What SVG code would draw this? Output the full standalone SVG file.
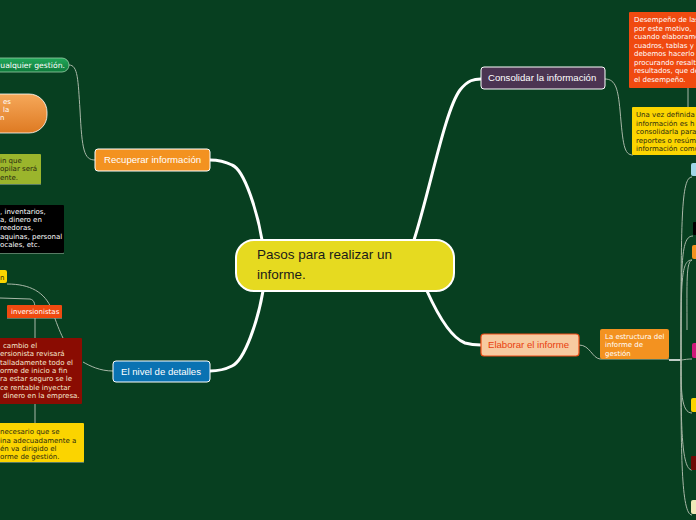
<svg xmlns="http://www.w3.org/2000/svg" width="696" height="520" viewBox="0 0 696 520">
<defs>
<linearGradient id="gGreen" x1="0" y1="0" x2="0" y2="1"><stop offset="0" stop-color="#22a85a"/><stop offset="1" stop-color="#0d7a3a"/></linearGradient>
<linearGradient id="gOrange" x1="0" y1="0" x2="0" y2="1"><stop offset="0" stop-color="#f6a85a"/><stop offset="1" stop-color="#de7a22"/></linearGradient>
</defs>
<style>
.main{fill:none;stroke:#ffffff;stroke-width:3;stroke-linecap:round}
.thin{fill:none;stroke:#a9b8a8;stroke-width:1}
.h{font-family:"Liberation Sans",Arial,sans-serif;font-size:9.6px;fill:#ffffff}
.s{font-family:"DejaVu Sans",Verdana,sans-serif;font-size:7px}
.w{fill:#ffffff}
.d{fill:#2a2a10}
.c{fill:#f6ead0}
</style>
<rect x="0" y="0" width="696" height="520" fill="#073f20"/>

<g id="connectors">
<path class="main" d="M262,240 C258,215 245,170 232,165 C222,160 215,160 210,160"/>
<path class="main" d="M263,291 C258,320 245,360 232,366 C222,371 215,371 210,371"/>
<path class="main" d="M414,240 C430,190 445,110 460,90 C468,80 474,79 481,79"/>
<path class="main" d="M427,291 C440,320 452,338 465,343 C472,345 476,345 481,345"/>
<path class="thin" d="M69,65 C78,65 78,80 80,110 C82,150 84,160 95,160"/>
<path class="thin" d="M605,79 C616,79 618,90 620,110 C623,145 624,155 633,155"/>
<path class="thin" d="M688,88 L688,107"/>
<path class="thin" d="M579,345 C590,345 592,358 600,359 L669,359"/>
<path class="thin" d="M113,371 C100,371 90,366 83,362"/>
<path class="thin" d="M7,284 C30,284 45,292 52,310 C56,322 60,332 63,338"/>
<path class="thin" d="M0,298 L30,299 C35,300 35,305 35,312 L35,338"/>
<path class="thin" d="M35,404 L35,423"/>
<path class="thin" d="M7,318 L62,318"/>
<path class="thin" d="M0,253 L64,253"/>
<path class="thin" d="M0,184 L41,184"/>
<path class="thin" d="M0,462 L84,462"/>
<path d="M669,360 L681,360" stroke="#ffffff" stroke-width="1.5" fill="none"/>
<path class="thin" d="M681,360 C681,220 681,177 692,177"/>
<path class="thin" d="M681,360 C681,260 681,236 693,236"/>
<path class="thin" d="M681,360 C681,280 681,260 692,260"/>
<path class="thin" d="M681,360 C683,360 686,359 692,359"/>
<path class="thin" d="M681,360 C681,390 681,413 692,413"/>
<path class="thin" d="M681,360 C681,420 681,470 692,470"/>
<path class="thin" d="M681,360 C681,450 681,515 692,515"/>
<path class="thin" d="M692,260 C686,262 687,280 687,330"/>
</g>

<g id="center">
<rect x="236" y="240" width="218" height="51" rx="18" fill="#e6da20" stroke="#ffffff" stroke-width="2"/>
<text x="257" y="259" font-family="Liberation Sans,Arial,sans-serif" font-size="13.5" fill="#1a1a1a">Pasos para realizar un</text>
<text x="257" y="279" font-family="Liberation Sans,Arial,sans-serif" font-size="13.5" fill="#1a1a1a">informe.</text>
</g>

<g id="recuperar">
<rect x="95" y="149" width="115" height="22" rx="3" fill="#f39220" stroke="#ffffff" stroke-width="1"/>
<text class="h" x="104" y="163">Recuperar información</text>
</g>
<g id="nivel">
<rect x="113" y="361" width="97" height="21" rx="3" fill="#0a72b2" stroke="#ffffff" stroke-width="1"/>
<text class="h" x="121" y="375">El nivel de detalles</text>
</g>
<g id="consolidar">
<rect x="481" y="67" width="124" height="22" rx="3" fill="#4b3452" stroke="#ffffff" stroke-width="1"/>
<text class="h" x="488" y="81">Consolidar la información</text>
</g>
<g id="elaborar">
<rect x="481" y="334" width="98" height="22" rx="3" fill="#f7caa0" stroke="#f04d16" stroke-width="1.2"/>
<text class="h" x="488" y="348" style="fill:#e8400f">Elaborar el informe</text>
</g>

<g id="n-gestion">
<rect x="-20" y="58" width="89" height="14" rx="7" fill="url(#gGreen)" stroke="#9ad0a8" stroke-width="0.8"/>
<text class="s w" x="65" y="68" text-anchor="end" style="font-size:7.7px">ualquier gestión.</text>
</g>
<g id="n-orange">
<rect x="-40" y="94" width="87" height="39" rx="18" fill="url(#gOrange)" stroke="#ffffff" stroke-width="0.8"/>
<text class="s w" x="3" y="104">es</text>
<text class="s w" x="3" y="112">la</text>
<text class="s w" x="0" y="120">n</text>
</g>
<g id="n-olive">
<rect x="-20" y="154" width="61" height="30" rx="1" fill="#9bb52c"/>
<text class="s d" x="0" y="163">in que</text>
<text class="s d" x="0" y="171">opilar será</text>
<text class="s d" x="0" y="180">ente.</text>
</g>
<g id="n-black">
<rect x="-20" y="205" width="84" height="48" rx="1" fill="#000000"/>
<text class="s w" x="0" y="214">, inventarios,</text>
<text class="s w" x="0" y="222">a, dinero en</text>
<text class="s w" x="0" y="230">reedoras,</text>
<text class="s w" x="0" y="239">aquinas, personal</text>
<text class="s w" x="0" y="247">ocales, etc.</text>
</g>
<g id="n-yellow-small">
<rect x="-20" y="270" width="27" height="13" rx="2" fill="#fbd400"/>
<text class="s d" x="0" y="280">n</text>
</g>
<g id="n-inversionistas">
<rect x="7" y="305" width="55" height="13" rx="1" fill="#f04a10"/>
<text class="s w" x="11" y="314">inversionistas</text>
</g>
<g id="n-darkred">
<rect x="-20" y="338" width="102" height="66" rx="1" fill="#8a0c02"/>
<text class="s c" x="3" y="348">cambio el</text>
<text class="s c" x="0" y="356">ersionista revisará</text>
<text class="s c" x="0" y="365">talladamente todo el</text>
<text class="s c" x="0" y="373">orme de inicio a fin</text>
<text class="s c" x="0" y="381">ra estar seguro se le</text>
<text class="s c" x="0" y="390">ce rentable inyectar</text>
<text class="s c" x="3" y="398">dinero en la empresa.</text>
</g>
<g id="n-yellow">
<rect x="-20" y="423" width="104" height="39" rx="1" fill="#fbd400"/>
<text class="s d" x="0" y="434">necesario que se</text>
<text class="s d" x="0" y="443">ina adecuadamente a</text>
<text class="s d" x="0" y="451">én va dirigido el</text>
<text class="s d" x="0" y="459">orme de gestión.</text>
</g>

<g id="n-desempeno">
<rect x="629" y="12" width="80" height="76" rx="1" fill="#f04a10"/>
<text class="s w" x="634" y="22">Desempeño de las</text>
<text class="s w" x="634" y="31">por este motivo,</text>
<text class="s w" x="634" y="39">cuando elaboramo</text>
<text class="s w" x="634" y="48">cuadros, tablas y</text>
<text class="s w" x="634" y="56">debemos hacerlo</text>
<text class="s w" x="634" y="65">procurando resalt</text>
<text class="s w" x="634" y="73">resultados, que de</text>
<text class="s w" x="634" y="82">el desempeño.</text>
</g>
<g id="n-unavez">
<rect x="632" y="107" width="80" height="48" rx="1" fill="#fbd400"/>
<text class="s d" x="636" y="117">Una vez definida</text>
<text class="s d" x="636" y="126">información es h</text>
<text class="s d" x="636" y="134">consolidarla para</text>
<text class="s d" x="636" y="143">reportes o resúm</text>
<text class="s d" x="636" y="151">información comu</text>
</g>
<g id="n-estructura">
<rect x="600" y="329" width="69" height="30" rx="2" fill="#f39220"/>
<text class="s w" x="605" y="339">La estructura del</text>
<text class="s w" x="605" y="347">informe de</text>
<text class="s w" x="605" y="356">gestión</text>
</g>
<g id="r1"><rect x="691" y="163" width="20" height="13" rx="2" fill="#9fd6e6"/></g>
<g id="r2"><rect x="693" y="222" width="20" height="13" rx="1" fill="#000000"/></g>
<g id="r3"><rect x="692" y="245" width="20" height="14" rx="2" fill="#f39220"/></g>
<g id="r4"><rect x="692" y="343" width="20" height="15" rx="2" fill="#d0187a"/></g>
<g id="r5"><rect x="691" y="398" width="20" height="14" rx="2" fill="#fbd400"/></g>
<g id="r6"><rect x="691" y="456" width="20" height="14" rx="1" fill="#6e0a06"/></g>
<g id="r7"><rect x="691" y="500" width="20" height="14" rx="2" fill="#efe8b8"/></g>
</svg>
